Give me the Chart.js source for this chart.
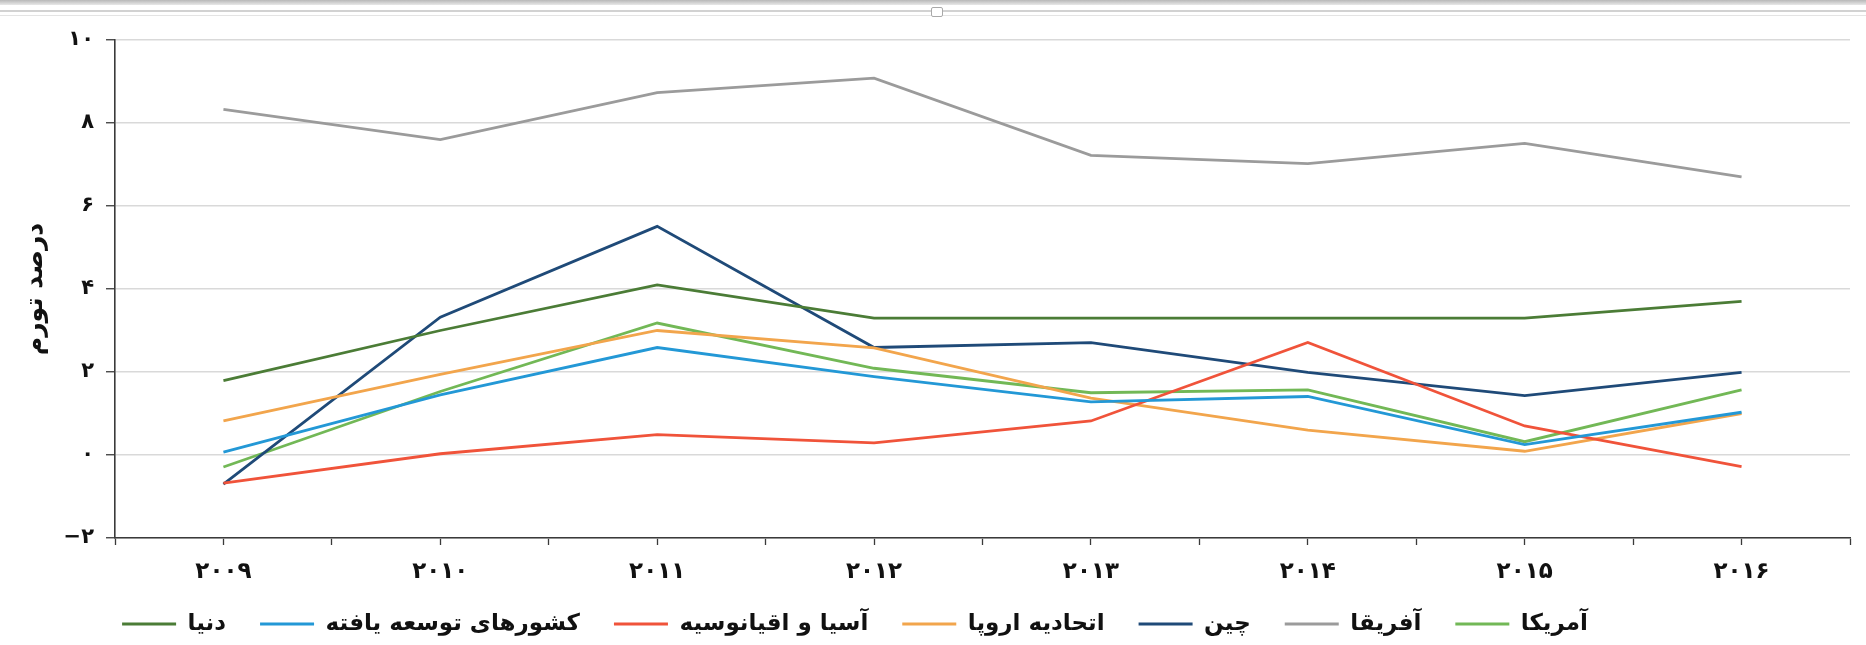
<!DOCTYPE html>
<html lang="fa">
<head>
<meta charset="utf-8">
<title>درصد تورم</title>
<script src="https://cdn.jsdelivr.net/npm/chart.js@4.4.1/dist/chart.umd.min.js"></script>
<style>
  html, body { margin: 0; padding: 0; background: #ffffff; }
  #wrap { position: relative; width: 1866px; height: 645px; overflow: hidden; background: #fff; }
  #wrap canvas { position: absolute; left: 0; top: 0; }
  .topbar { position: absolute; left: 0; top: 0; width: 1866px; height: 5px; background: linear-gradient(#b8b8b8, #e8e8e8); }
  .rule1 { position: absolute; left: 0; top: 10px; width: 1866px; height: 2px; background: #d2d2d2; }
  .rule2 { position: absolute; left: 0; top: 15px; width: 1866px; height: 1px; background: #e4e4e4; }
  .grip { position: absolute; left: 931px; top: 7px; width: 10px; height: 8px; border: 1px solid #a9a9a9; border-radius: 2px; background: #fff; }
</style>
</head>
<body>
<div id="wrap">
  <canvas id="chart" width="1866" height="645"></canvas>
  <div class="topbar"></div>
  <div class="rule1"></div>
  <div class="rule2"></div>
  <div class="grip"></div>
</div>
<script>
// Years on the horizontal axis
const years = ['۲۰۰۹', '۲۰۱۰', '۲۰۱۱', '۲۰۱۲', '۲۰۱۳', '۲۰۱۴', '۲۰۱۵', '۲۰۱۶'];

// Inflation rate (percent) by region
const world      = [1.79, 3.00, 4.10, 3.30, 3.30, 3.30, 3.30, 3.70];
const developed  = [0.07, 1.45, 2.59, 1.89, 1.28, 1.41, 0.25, 1.03];
const asiaPacific= [-0.68, 0.03, 0.49, 0.29, 0.82, 2.71, 0.70, -0.28];
const euro       = [0.82, 1.94, 3.00, 2.58, 1.37, 0.60, 0.09, 1.00];
const china      = [-0.70, 3.32, 5.51, 2.59, 2.71, 1.99, 1.43, 1.99];
const africa     = [8.33, 7.60, 8.73, 9.08, 7.22, 7.02, 7.51, 6.70];
const america    = [-0.29, 1.53, 3.18, 2.09, 1.50, 1.57, 0.32, 1.57];

// Vertical axis ticks and their Persian labels
const yTicks     = [-2, 0, 2, 4, 6, 8, 10];
const yTickText  = ['−۲', '۰', '۲', '۴', '۶', '۸', '۱۰'];

const seriesNames = ['دنیا', 'کشورهای توسعه یافته', 'آسیا و اقیانوسیه', 'اتحادیه اروپا', 'چین', 'آفریقا', 'آمریکا'];
const seriesData  = [world, developed, asiaPacific, euro, china, africa, america];
const seriesColors = ['#4b7c36', '#2398d6', '#f0533a', '#f2a54c', '#1f4a78', '#9b9b9b', '#72b856'];

const FONT = "'DejaVu Sans', 'Noto Sans', sans-serif";

// Centre of the legend row on the canvas
const LEGEND_CX = 872;
const LEGEND_CY = 624;

const legendPlacement = {
  id: 'legendPlacement',
  afterLayout(chart) {
    const lg = chart.legend;
    if (!lg) return;
    const pad = lg.options.labels.padding;
    const curCx = (lg.left + lg.right + pad) / 2;
    const dx = LEGEND_CX - curCx;
    lg.left += dx; lg.right += dx;
    const curCy = lg.top + pad + (lg.options.labels.font.size) / 2;
    const dy = LEGEND_CY - curCy;
    lg.top += dy; lg.bottom += dy;
  }
};

const datasets = seriesNames.map((name, k) => ({
  label: name,
  data: seriesData[k].map((v, i) => ({ x: i, y: v })),
  borderColor: seriesColors[k],
  backgroundColor: seriesColors[k],
  borderWidth: 2.8,
  pointRadius: 0,
  tension: 0,
  fill: false
}));

new Chart(document.getElementById('chart'), {
  type: 'line',
  data: { datasets },
  plugins: [legendPlacement],
  options: {
    responsive: false,
    animation: false,
    devicePixelRatio: 1,
    layout: { padding: { left: 0, right: 16, top: 40, bottom: 0 } },
    plugins: {
      tooltip: { enabled: false },
      legend: {
        position: 'bottom',
        align: 'center',
        labels: {
          boxWidth: 54,
          boxHeight: 3,
          padding: 34,
          color: '#111',
          font: { family: FONT, size: 23, weight: 'bold' },
          generateLabels(chart) {
            return Chart.defaults.plugins.legend.labels.generateLabels(chart)
              .map(item => Object.assign(item, { lineWidth: 0 }));
          }
        }
      }
    },
    scales: {
      x: {
        type: 'linear',
        min: -0.5,
        max: 7.5,
        afterFit(scale) { scale.height = 40; },
        border: { display: true, color: '#3a3a3a', width: 1.6 },
        grid: { drawOnChartArea: false, drawTicks: true, tickLength: 7, tickColor: '#3a3a3a', tickWidth: 1.3 },
        ticks: {
          stepSize: 0.5,
          autoSkip: false,
          maxRotation: 0,
          padding: 13,
          color: '#111',
          font: { family: FONT, size: 23, weight: 'bold' },
          callback: v => (Number.isInteger(v) && v >= 0 && v < years.length) ? years[v] : ''
        }
      },
      y: {
        min: -2,
        max: 10,
        afterFit(scale) { scale.width = 115; },
        afterBuildTicks(scale) { scale.ticks = yTicks.map(v => ({ value: v })); },
        border: { display: true, color: '#3a3a3a', width: 1.6 },
        grid: { color: '#d9d9d9', lineWidth: 1.5, tickLength: 9, tickColor: '#3a3a3a', tickWidth: 1.3 },
        ticks: {
          padding: 12,
          color: '#111',
          font: { family: FONT, size: 21, weight: 'bold' },
          callback: v => yTickText[yTicks.indexOf(v)]
        },
        title: {
          display: true,
          text: 'درصد تورم',
          color: '#111',
          padding: { top: 20, bottom: 0 },
          font: { family: FONT, size: 25, weight: 'bold' }
        }
      }
    }
  }
});
</script>
</body>
</html>
